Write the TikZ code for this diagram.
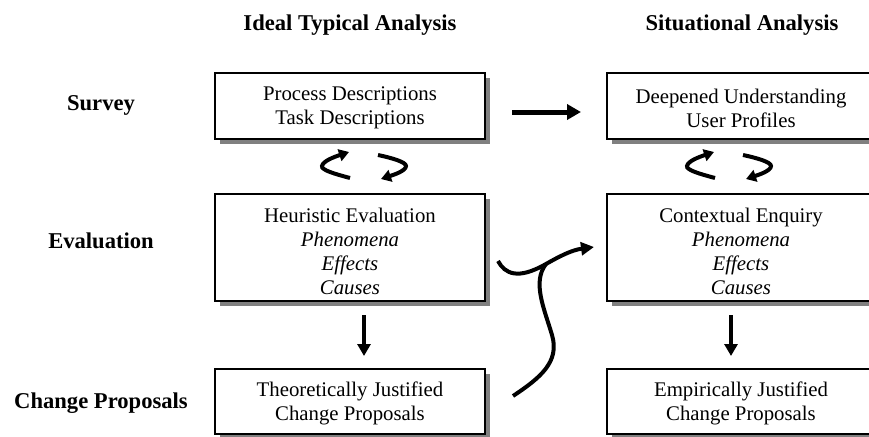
\documentclass[tikz,border=0pt]{standalone}
\usepackage{fontspec}
\setmainfont{Liberation Serif}
\usetikzlibrary{arrows.meta,shadows}
\begin{document}
\begin{tikzpicture}[x=1pt,y=-1pt,
  box/.style={draw, line width=1.4pt, fill=white, inner sep=0pt, minimum width=270pt,
    drop shadow={shadow xshift=5pt, shadow yshift=-5pt, fill=black!50, opacity=1}},
  boxtext/.style={inner sep=0pt, align=center, font=\fontsize{20.8pt}{24pt}\selectfont},
  head/.style={font=\fontsize{22.6pt}{26pt}\selectfont\bfseries, inner sep=0pt},
  bigarrow/.style={line width=5pt, -{Triangle[length=14pt,width=15pt]}},
  midarrow/.style={line width=4pt, -{Triangle[length=12pt,width=13pt]}},
  smallarrow/.style={line width=4pt, -{Triangle[length=10pt,width=12pt]}}
]
\path[use as bounding box] (0,0) rectangle (869,436);
\clip (0,0) rectangle (869,436);

% headers
\node[head] (h1) at (350,25) {Ideal Typical Analysis};
\node[head] (h2) at (742,25) {Situational Analysis};
\node[head] (r1) at (101,105) {Survey};
\node[head] (r2) at (101,241) {Evaluation};
\node[head] (r3) at (101,403) {Change Proposals};

% boxes
\node[box, minimum height=66pt] (s1) at (350,106) {};
\node[boxtext] (s1t) at (350,108) {Process Descriptions\\Task Descriptions};
\node[box, minimum height=107pt] (e1) at (350,247.5) {};
\node[boxtext] (e1t) at (350,251) {Heuristic Evaluation\\\textit{Phenomena}\\\textit{Effects}\\\textit{Causes}};
\node[box, minimum height=65pt] (c1) at (350,401.5) {};
\node[boxtext] (c1t) at (350,403.5) {Theoretically Justified\\Change Proposals};

\node[box, minimum height=66pt, minimum width=268pt] (s2) at (741,106) {};
\node[boxtext] (s2t) at (741,108) {Deepened Understanding\\User Profiles};
\node[box, minimum height=107pt, minimum width=268pt] (e2) at (741,247.5) {};
\node[boxtext] (e2t) at (741,251) {Contextual Enquiry\\\textit{Phenomena}\\\textit{Effects}\\\textit{Causes}};
\node[box, minimum height=65pt, minimum width=268pt] (c2) at (741,401.5) {};
\node[boxtext] (c2t) at (741,403.5) {Empirically Justified\\Change Proposals};

% horizontal arrow survey -> survey
\coordinate (ha) at (512,112);
\coordinate (hb) at (581,112);
\draw[bigarrow] (ha) -- (hb);

% down arrows
\coordinate (d1a) at (364,315);
\coordinate (d1b) at (364,356);
\coordinate (d2a) at (731,315);
\coordinate (d2b) at (731,356);
\draw[midarrow] (d1a) -- (d1b);
\draw[midarrow] (d2a) -- (d2b);

% small cycle arrows, left column
\coordinate (la1) at (350,178);
\coordinate (la2) at (349,152);
\coordinate (lb1) at (378,155);
\coordinate (lb2) at (381,179);
\draw[smallarrow] (la1) .. controls (335,174) and (321,170) .. (322,166)
  .. controls (323,161) and (334,157) .. (la2);
\draw[smallarrow] (lb1) .. controls (392,158) and (406,162) .. (406,166)
  .. controls (406,171) and (393,175) .. (lb2);

% small cycle arrows, right column
\coordinate (ra1) at (715,178);
\coordinate (ra2) at (714,152);
\coordinate (rb1) at (743,155);
\coordinate (rb2) at (746,179);
\draw[smallarrow] (ra1) .. controls (700,174) and (686,170) .. (687,166)
  .. controls (688,161) and (699,157) .. (ra2);
\draw[smallarrow] (rb1) .. controls (757,158) and (771,162) .. (771,166)
  .. controls (771,171) and (758,175) .. (rb2);

% curvy arrows between columns
\coordinate (ca) at (498,261);
\coordinate (cm) at (546,264);
\coordinate (cb) at (594,247);
\coordinate (cs) at (513,396);
\draw[line width=4pt, -{Triangle[length=13pt,width=13pt]}] (ca) .. controls (505,274) and (518,280) .. (cm)
  .. controls (560,256) and (572,250) .. (cb);
\draw[line width=4pt] (cs) .. controls (540,378) and (560,362) .. (552,335)
  .. controls (544,308) and (532,282) .. (cm);
\end{tikzpicture}
\end{document}
